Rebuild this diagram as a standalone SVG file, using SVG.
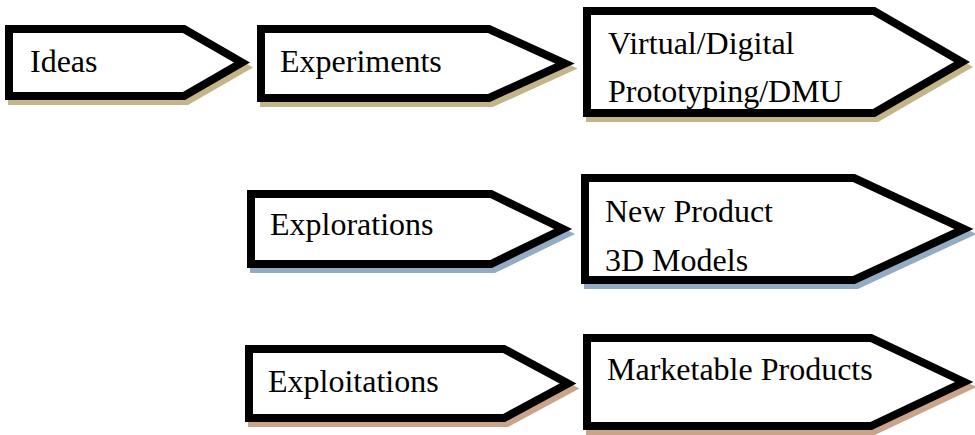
<svg xmlns="http://www.w3.org/2000/svg" width="975" height="435" viewBox="0 0 975 435">
  <style>
    .box { fill: #ffffff; stroke: #000000; stroke-width: 8; stroke-linejoin: miter; stroke-miterlimit: 6; }
    .sh { stroke-width: 8; stroke-linejoin: miter; stroke-miterlimit: 6; }
    .tan { fill: #C4B48A; stroke: #C4B48A; }
    .blue { fill: #93ABC3; stroke: #93ABC3; }
    .rose { fill: #C9A38A; stroke: #C9A38A; }
    text { font-family: "Liberation Serif", "Times New Roman", serif; font-size: 32px; fill: #000000; }
  </style>

  <!-- Row 1 -->
  <g id="ideas">
    <polygon class="sh tan" transform="translate(3,5)" points="9,29 184,29 242,62.5 184,96 9,96"/>
    <polygon class="box" points="9,29 184,29 242,62.5 184,96 9,96"/>
    <text x="30" y="72">Ideas</text>
  </g>

  <g id="experiments">
    <polygon class="sh tan" transform="translate(3,5)" points="261,29 489,29 565,63.5 489,98 261,98"/>
    <polygon class="box" points="261,29 489,29 565,63.5 489,98 261,98"/>
    <text x="280" y="72">Experiments</text>
  </g>

  <g id="virtual-prototyping">
    <polygon class="sh tan" transform="translate(3,5)" points="587,11 874,11 962,62 874,113 587,113"/>
    <polygon class="box" points="587,11 874,11 962,62 874,113 587,113"/>
    <text x="608" y="54">Virtual/Digital</text>
    <text x="608" y="102">Prototyping/DMU</text>
  </g>

  <!-- Row 2 -->
  <g id="explorations">
    <polygon class="sh blue" transform="translate(3,5)" points="251,194 491,194 563,229 491,264 251,264"/>
    <polygon class="box" points="251,194 491,194 563,229 491,264 251,264"/>
    <text x="270" y="235">Explorations</text>
  </g>

  <g id="new-product-models">
    <polygon class="sh blue" transform="translate(3,5)" points="585,178 854,178 964,229 854,280 585,280"/>
    <polygon class="box" points="585,178 854,178 964,229 854,280 585,280"/>
    <text x="605" y="222">New Product</text>
    <text x="605" y="271">3D Models</text>
  </g>

  <!-- Row 3 -->
  <g id="exploitations">
    <polygon class="sh rose" transform="translate(3,5)" points="249,349 504,349 568,383.5 504,418 249,418"/>
    <polygon class="box" points="249,349 504,349 568,383.5 504,418 249,418"/>
    <text x="268" y="392">Exploitations</text>
  </g>

  <g id="marketable-products">
    <polygon class="sh rose" transform="translate(3,5)" points="587,338 871,338 964,382 871,426 587,426"/>
    <polygon class="box" points="587,338 871,338 964,382 871,426 587,426"/>
    <text x="607" y="380">Marketable Products</text>
  </g>
</svg>
